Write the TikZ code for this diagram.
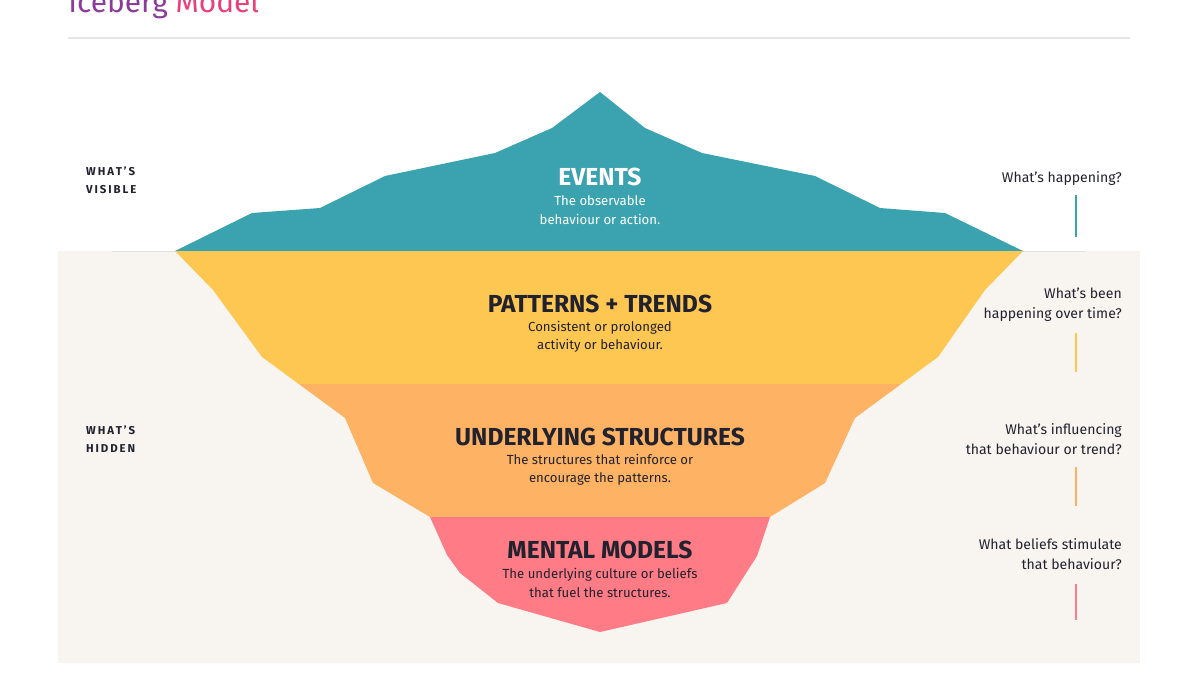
\documentclass[tikz,border=0pt]{standalone}
\usepackage{fontspec}
\setmainfont{Fira Sans}
\definecolor{teal}{HTML}{3BA3AF}
\definecolor{yel}{HTML}{FDC752}
\definecolor{ora}{HTML}{FEB364}
\definecolor{pnk}{HTML}{FF7B85}
\definecolor{sea}{HTML}{F8F5F1}
\definecolor{ink}{HTML}{22222E}
\tikzset{
  head/.style={font=\fontsize{14}{16}\selectfont\bfseries, text=ink},
  body/.style={font=\fontsize{7.5}{10.5}\selectfont, text=ink, align=center},
  side/.style={font=\fontsize{6.5}{10}\selectfont\bfseries, text=ink, align=left, anchor=west},
  ask/.style={font=\fontsize{8}{11.5}\selectfont, text=ink, align=right, anchor=east},
  tick/.style={line width=0.8pt}
}
\begin{document}
\begin{tikzpicture}[x=0.02cm,y=-0.02cm]
\useasboundingbox (0,0) rectangle (1200,676);
% title and rule
\node[anchor=base west, inner sep=0, font=\fontsize{17}{20}\selectfont] (title) at (68,12)
  {\textcolor[HTML]{8A3C98}{Iceberg} \textcolor[HTML]{E8407A}{Model}};
\draw[gray!20, line width=0.6pt] (68,38) -- (1130,38);
% water
\fill[sea] (58,251) rectangle (1140,663);
\draw[gray!25, line width=0.5pt] (112,251) -- (1085,251);
% tip
\fill[teal] (175,251) -- (252,213) -- (320,208) -- (385,176) -- (495,153) -- (552,128)
  -- (600,92) -- (645,128) -- (702,153) -- (815,176) -- (880,208) -- (945,213) -- (1023,251) -- cycle;
% underwater bands
\begin{scope}
\clip (175,251) -- (213,290) -- (262,357) -- (345,418) -- (373,483) -- (430,517)
  -- (447,555) -- (460,573) -- (498,603) -- (600,632) -- (727,603) -- (757,556) -- (770,517)
  -- (825,483) -- (855,418) -- (938,357) -- (985,290) -- (1023,251) -- cycle;
\fill[yel] (150,251) rectangle (1050,384);
\fill[ora] (150,384) rectangle (1050,517);
\fill[pnk] (150,517) rectangle (1050,640);
\end{scope}
% layer texts
\node[head, text=white] (events) at (600,177) {EVENTS};
\node[body, text=white] (eventsTxt) at (600,210) {The observable\\behaviour or action.};
\node[head] (patterns) at (600,304) {PATTERNS + TRENDS};
\node[body] (patternsTxt) at (600,337) {Consistent or prolonged\\activity or behaviour.};
\node[head] (structures) at (600,437) {UNDERLYING STRUCTURES};
\node[body] (structuresTxt) at (600,470) {The structures that reinforce or\\encourage the patterns.};
\node[head] (models) at (600,550) {MENTAL MODELS};
\node[body] (modelsTxt) at (600,583) {The underlying culture or beliefs\\that fuel the structures.};
% left labels
\node[side] (visible) at (80,180) {W\,H\,A\,T\,’\,S\\V\,I\,S\,I\,B\,L\,E};
\node[side] (hidden) at (80,439) {W\,H\,A\,T\,’\,S\\H\,I\,D\,D\,E\,N};
% right questions
\node[ask] (q1) at (1128,179) {What’s happening?};
\node[ask] (q2) at (1128,305) {What’s been\\happening over time?};
\node[ask] (q3) at (1128,439) {What’s influencing\\that behaviour or trend?};
\node[ask] (q4) at (1128,554) {What beliefs stimulate\\that behaviour?};
\draw[tick, teal] (1076,195) -- (1076,237);
\draw[tick, yel] (1076,333) -- (1076,372);
\draw[tick, ora] (1076,467) -- (1076,506);
\draw[tick, pnk] (1076,584) -- (1076,620);
\end{tikzpicture}
\end{document}
